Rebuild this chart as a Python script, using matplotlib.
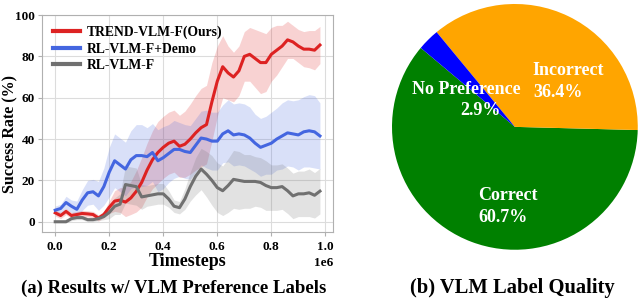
import numpy as np
import matplotlib
matplotlib.use('Agg')
import matplotlib.pyplot as plt

plt.rcParams['font.family'] = ['Liberation Serif', 'DejaVu Serif']
plt.rcParams['font.weight'] = 'bold'
plt.rcParams['axes.labelweight'] = 'bold'

# timesteps, one eval every 20k steps
steps = np.arange(50) * 0.02e6

# success rate means (%)
trend_mean = [4.3, 3, 5, 3, 3.5, 4, 3.8, 3.5, 1.8, 3.5,
              7, 10, 10.5, 9.5, 11.5, 14.7, 19, 25, 30, 33.5,
              36, 38, 39, 36.5, 37.5, 40, 43, 45.5, 47, 58,
              68, 75, 72, 70, 73, 80, 81, 79, 77, 77,
              81, 83, 85, 88, 87, 85, 83.5, 83.5, 83, 85.5]
trend_std = [1.5, 1.5, 1.5, 1.5, 1.5, 1.5, 1.5, 1.5, 1.5, 1.5,
             3, 5, 6, 7, 8, 10, 12, 13, 14, 15,
             15, 15, 15, 15, 16, 17, 18, 19, 19, 19,
             17, 15, 13, 12, 12, 12, 13, 14, 15, 14,
             13, 12, 10, 9, 8, 8, 8.5, 9, 9.5, 9]

demo_mean = [5.6, 6.4, 9.3, 7.5, 6, 10.5, 14, 14.5, 12.5, 17,
             24, 29.5, 27.5, 25.5, 30, 32, 32, 31.5, 33.5, 29.5,
             31, 33, 35, 35, 34, 33.5, 37, 40.5, 40, 39,
             39, 42.5, 44, 42, 42.5, 42, 40.5, 38, 36, 37,
             38, 40, 41.5, 43, 42.5, 42, 43.5, 44, 43.5, 41.5]
demo_std = [2, 2, 3, 3, 4, 5, 6, 6, 7, 9,
            12, 13, 13, 13, 14, 15, 15, 14, 14, 15,
            15, 14, 14, 13, 13, 13, 13, 13, 14, 14,
            14, 14, 15, 15, 15, 15, 15, 14, 14, 14,
            15, 15, 16, 16, 16, 17, 17, 17.5, 17.5, 16]

base_mean = [0, 0, 0, 1.5, 2, 2, 1, 1, 1.5, 2.5,
             4.5, 7.5, 8.5, 18, 17.5, 17, 12, 12.5, 13, 13.5,
             13.5, 11, 7.5, 6.8, 11, 17, 22, 25.5, 23, 20,
             16.5, 15, 17.5, 20.5, 20, 19.5, 19.5, 19.5, 19, 17.5,
             16.5, 16.5, 17, 15, 12.5, 13.5, 13.5, 14, 12.8, 14.8]
base_std = [0.5, 0.5, 0.5, 1, 1, 1, 1, 1, 1, 1.5,
            3, 4, 5, 9, 9, 9, 6, 5, 5, 5,
            5, 4, 3, 3, 5, 7, 9, 10, 11, 12,
            12, 12, 13, 14, 14, 13, 13, 12, 12, 12,
            11, 11, 11, 11, 11, 11, 11, 11.5, 11, 11]

# pie data
pie_labels = ['Correct', 'Incorrect', 'No Preference']
pie_values = [60.7, 36.4, 2.9]
pie_colors = ['#008000', '#ffa500', '#0000ff']

fig = plt.figure(figsize=(6.4, 3.01), dpi=100)
ax = fig.add_axes([0.0656, 0.229, 0.455, 0.721])

series = [
    ('TREND-VLM-F(Ours)', trend_mean, trend_std, '#dd2222'),
    ('RL-VLM-F+Demo', demo_mean, demo_std, '#4466e0'),
    ('RL-VLM-F', base_mean, base_std, '#707070'),
]
for name, m, s, c in series:
    m = np.array(m)
    s = np.array(s)
    ax.fill_between(steps, m - s, m + s, color=c, alpha=0.2, lw=0)
for name, m, s, c in series:
    ax.plot(steps, m, color=c, lw=2.2, label=name)

ax.set_ylim(-5, 100)
ax.set_yticks([0, 20, 40, 60, 80, 100])
ax.grid(True, color='#dcdcdc', lw=0.8)
ax.set_axisbelow(True)
for sp in ax.spines.values():
    sp.set_color('#b0b0b0')
ax.tick_params(labelsize=9.5, color='#b0b0b0', length=3)
ax.tick_params(axis='y', pad=2)
ax.set_xlabel('Timesteps', fontsize=13, labelpad=0)
ax.set_ylabel('Success Rate (%)', fontsize=11.5)
ax.yaxis.set_label_coords(-0.082, 0.45)
ax.xaxis.get_offset_text().set_fontsize(9.5)
ax.xaxis.get_offset_text().set_fontweight('bold')
leg = ax.legend(loc='upper left', frameon=False, fontsize=9.8,
                handlelength=2, handletextpad=0.5, labelspacing=0.25,
                borderaxespad=0.5, borderpad=0.3)
for h in leg.get_lines():
    h.set_linewidth(3)

# pie chart
pax = fig.add_axes([0.6125, 0.170, 0.384, 0.817])
pax.pie(pie_values, colors=pie_colors, startangle=140, counterclock=True)
pax.set_xlim(-1, 1)
pax.set_ylim(-1, 1)
pax.set_aspect('equal')

txt = dict(color='white', fontsize=13, fontweight='bold', va='center')
# label placement inside the wedges
pax.text(-0.30, -0.555, pie_labels[0], ha='left', **txt)
pax.text(-0.30, -0.735, f'{pie_values[0]}%', ha='left', **txt)
pax.text(0.146, 0.46, pie_labels[1], ha='left', **txt)
pax.text(0.146, 0.28, f'{pie_values[1]}%', ha='left', **txt)
pax.text(-0.393, 0.306, pie_labels[2], ha='center', **txt)
pax.text(-0.276, 0.136, f'{pie_values[2]}%', ha='center', **txt)

fig.text(0.271, 0.042, '(a) Results w/ VLM Preference Labels',
         ha='center', va='center', fontsize=13.5, fontweight='bold')
fig.text(0.801, 0.042, '(b) VLM Label Quality',
         ha='center', va='center', fontsize=14.8, fontweight='bold')

fig.savefig('out.png', dpi=100)
